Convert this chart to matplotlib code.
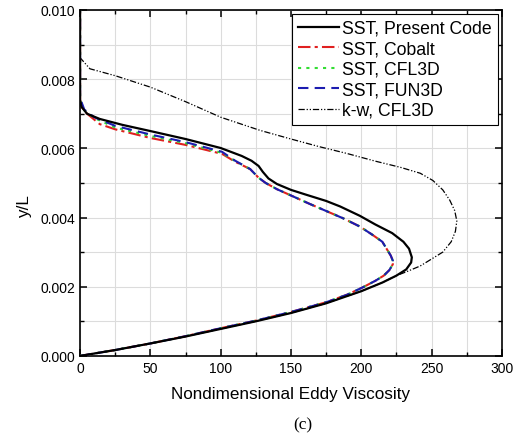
import numpy as np
import matplotlib.pyplot as plt
from matplotlib.ticker import MultipleLocator

plt.rcParams["font.family"] = "Liberation Sans"

# SST, Present Code
x_pc = [0, 25, 50, 75, 100, 125, 150, 175, 200, 215, 225, 232, 235.5, 236, 234, 230,
        222, 210, 199, 185, 175, 160, 150, 140, 134, 130, 127, 122, 115, 100, 75, 50,
        30, 14, 5, 1, 0, 0]
y_pc = [0, 0.00017, 0.00036, 0.00056, 0.00078, 0.00100, 0.00124, 0.00152, 0.00187,
        0.00212, 0.00232, 0.00250, 0.00270, 0.00285, 0.00310, 0.00330, 0.00355, 0.00380,
        0.00405, 0.00432, 0.00448, 0.00467, 0.00480, 0.00497, 0.00513, 0.00532, 0.00549,
        0.00564, 0.00578, 0.00601, 0.00627, 0.00650, 0.00668, 0.00685, 0.00700, 0.00720,
        0.00740, 0.01]

# SST, Cobalt
x_co = [0, 25, 50, 75, 100, 125, 150, 175, 190, 201, 210, 216, 220, 222.5, 222.5, 221,
        218, 215, 208, 199, 187, 175, 163, 151, 140, 132, 127, 121, 110, 101, 75, 50,
        25, 14, 5, 1, 0, 0]
y_co = [0, 0.00017, 0.00036, 0.00057, 0.00080, 0.00102, 0.00127, 0.00155, 0.00177,
        0.00198, 0.00217, 0.00232, 0.00248, 0.00265, 0.00275, 0.00290, 0.00310, 0.00330,
        0.00350, 0.00374, 0.00398, 0.00419, 0.00440, 0.00462, 0.00482, 0.00500, 0.00515,
        0.00540, 0.00562, 0.00584, 0.00610, 0.00630, 0.00655, 0.00670, 0.00700, 0.00720,
        0.00740, 0.01]

# SST, CFL3D
x_cf = [0, 25, 50, 75, 100, 125, 150, 175, 190, 201, 210, 216, 220, 222.5, 222.5, 221,
        218, 215, 208, 199, 187, 175, 163, 151, 140, 132, 127, 121, 110, 101, 75, 50,
        25, 10, 3, 0, 0]
y_cf = [0, 0.00017, 0.00036, 0.00057, 0.00080, 0.00102, 0.00127, 0.00155, 0.00177,
        0.00198, 0.00217, 0.00232, 0.00248, 0.00265, 0.00275, 0.00290, 0.00310, 0.00330,
        0.00350, 0.00374, 0.00398, 0.00419, 0.00440, 0.00462, 0.00482, 0.00500, 0.00515,
        0.00540, 0.00564, 0.00587, 0.00615, 0.00636, 0.00660, 0.00688, 0.00710, 0.00740,
        0.01]

# SST, FUN3D
x_fu = [0, 25, 50, 75, 100, 125, 150, 175, 190, 201, 210, 216, 220, 222.5, 222.5, 221,
        218, 215, 208, 199, 187, 175, 163, 151, 140, 132, 127, 121, 110, 101, 75, 50,
        25, 10, 3, 0, 0]
y_fu = [0, 0.00017, 0.00036, 0.00057, 0.00080, 0.00102, 0.00127, 0.00155, 0.00177,
        0.00198, 0.00217, 0.00232, 0.00248, 0.00265, 0.00275, 0.00290, 0.00310, 0.00330,
        0.00350, 0.00374, 0.00398, 0.00419, 0.00440, 0.00462, 0.00482, 0.00500, 0.00515,
        0.00540, 0.00565, 0.00590, 0.00618, 0.00640, 0.00665, 0.00690, 0.00712, 0.00745,
        0.01]

# k-w, CFL3D
x_kw = [0, 25, 50, 75, 100, 125, 150, 175, 200, 215, 225, 232, 242, 250, 258, 264, 267,
        268, 266.5, 263, 258, 251, 242, 228, 210, 190, 170, 150, 128, 100, 75, 50, 25, 7,
        0, 0]
y_kw = [0, 0.00017, 0.00036, 0.00056, 0.00078, 0.00100, 0.00124, 0.00152, 0.00187,
        0.00212, 0.00232, 0.00243, 0.00260, 0.00280, 0.00300, 0.00330, 0.00360, 0.00390,
        0.00420, 0.00450, 0.00480, 0.00507, 0.00528, 0.00545, 0.00563, 0.00585, 0.00605,
        0.00627, 0.00652, 0.00690, 0.00735, 0.00777, 0.00810, 0.00830, 0.00862, 0.01]

fig = plt.figure(figsize=(5.2, 4.39), dpi=100)
ax = fig.add_axes([0.154, 0.187, 0.811, 0.788])

ax.plot(x_pc, y_pc, color='black', lw=1.6, label='SST, Present Code', zorder=5)
ax.plot(x_co, y_co, color='#e02020', lw=1.5, ls=(0, (6, 2, 1.5, 2)), label='SST, Cobalt', zorder=3)
ax.plot(x_cf, y_cf, color='#33dd33', lw=1.5, ls=(0, (1.5, 2.5)), label='SST, CFL3D', zorder=4)
ax.plot(x_fu, y_fu, color='#1c1cb0', lw=1.5, ls=(0, (5, 3)), label='SST, FUN3D', zorder=4)
ax.plot(x_kw, y_kw, color='black', lw=0.9, ls=(0, (5, 1.5, 1, 1.5, 1, 1.5)), label='k-w, CFL3D', zorder=2)

ax.set_xlim(0, 300)
ax.set_ylim(0, 0.010)
ax.xaxis.set_major_locator(MultipleLocator(50))
ax.xaxis.set_minor_locator(MultipleLocator(25))
ax.yaxis.set_major_locator(MultipleLocator(0.002))
ax.yaxis.set_minor_locator(MultipleLocator(0.001))
ax.yaxis.set_major_formatter(plt.FuncFormatter(lambda v, p: f'{v:.3f}'))
ax.grid(True, which='both', color='#dcdcdc', lw=0.8)
ax.set_axisbelow(True)
ax.tick_params(which='both', direction='in', top=True, right=True, labelsize=10)
ax.tick_params(which='major', length=5, width=1.1)
ax.tick_params(which='minor', length=3, width=1.0)
for s in ax.spines.values():
    s.set_linewidth(1.2)

ax.set_xlabel('Nondimensional Eddy Viscosity', fontsize=12.3, labelpad=8)
ax.set_ylabel('y/L', fontsize=12.3)
ax.yaxis.set_label_coords(-0.115, 0.434)

leg = ax.legend(loc='upper right', fontsize=12.7, handlelength=2.3, handletextpad=0.2,
                labelspacing=0.2, borderpad=0.35, fancybox=False, framealpha=1,
                borderaxespad=0.2)
leg.get_frame().set_edgecolor('black')
leg.get_frame().set_linewidth(0.8)

fig.text(0.583, 0.022, '(c)', fontsize=12.5, family='Liberation Serif', ha='center')

plt.savefig('out.png', dpi=100)
